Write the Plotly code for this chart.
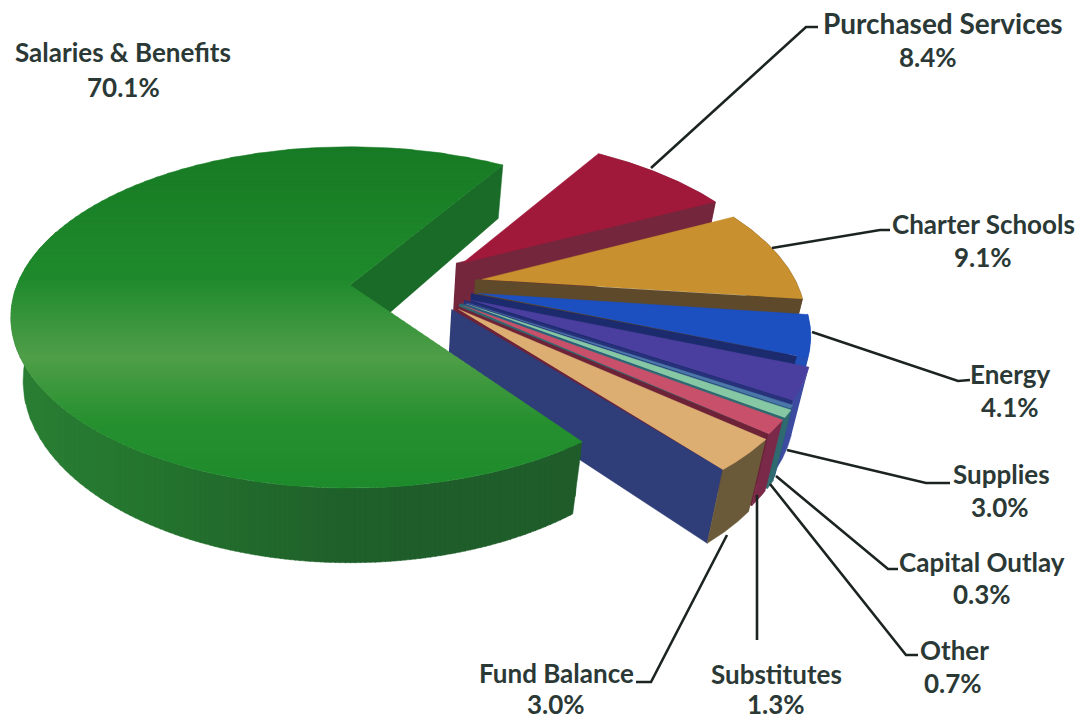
import numpy as np
import plotly.graph_objects as go

# Budget shares, clockwise from the top of the pie
categories = ["Purchased Services", "Charter Schools", "Energy", "Supplies",
              "Capital Outlay", "Other", "Substitutes", "Fund Balance",
              "Salaries & Benefits"]
shares = [8.4, 9.1, 4.1, 3.0, 0.3, 0.7, 1.3, 3.0, 70.1]

top_colors = ["#a0183a", "#c8902e", "#1c4fc0", "#4a3f9e", "#4a78a8",
              "#86c8a4", "#c8506a", "#dcae72", None]
edge_colors = ["#74263c", "#5e4a2a", "#1c2a6e", "#27327a", "#2a5a80",
               "#2f6a70", "#6e2238", "#2f3d78", "#1a6a28"]
rim_colors = ["#74263c", "#5e4a2a", "#2050b8", "#3c4aa0", "#2a5a80",
              "#2f6a70", "#7a2a48", "#6b5a3a", None]

# How far each small wedge is pulled out, and its radius
pulls = [0.367, 0.394, 0.378, 0.363, 0.357, 0.354, 0.35, 0.342]
radii = [0.95, 0.932, 0.943, 0.958, 0.965, 0.97, 0.97, 0.975]

# Green top face: vertical shading stops (screen y, colour)
green_top_stops = [(145, "#177a24"), (280, "#1f8a2c"), (357, "#4f9e48"),
                   (420, "#26902f"), (500, "#1b8a2a")]
# Green rim: horizontal shading stops (screen x, colour)
green_rim_stops = [(0, "#2a8034"), (150, "#24742e"), (350, "#1f5f2a"), (590, "#1f5c2a")]

# Leader lines and label anchors
leaders = {
    "Purchased Services": ([651, 806, 818], [168, 27, 27]),
    "Charter Schools": ([772, 880, 890], [248, 230, 230]),
    "Energy": ([812, 958, 970], [332, 381, 380]),
    "Supplies": ([787, 926, 950], [450, 483, 483]),
    "Capital Outlay": ([776, 888, 898], [476, 569, 569]),
    "Other": ([770, 906, 918], [484, 655, 655]),
    "Substitutes": ([757, 757], [495, 640]),
    "Fund Balance": ([727, 651, 636], [535, 682, 682]),
}
name_anchor = {
    "Salaries & Benefits": (123, 52), "Purchased Services": (943, 23),
    "Charter Schools": (983, 224), "Energy": (1010, 374), "Supplies": (1001, 474),
    "Capital Outlay": (982, 562), "Other": (954, 650), "Substitutes": (776, 674),
    "Fund Balance": (556, 673),
}
value_anchor = {
    "Salaries & Benefits": (123, 87), "Purchased Services": (928, 57),
    "Charter Schools": (983, 257), "Energy": (1010, 407), "Supplies": (1000, 507),
    "Capital Outlay": (982, 594), "Other": (953, 683), "Substitutes": (776, 704),
    "Fund Balance": (556, 704),
}
name_sizes = {"Purchased Services": 28}

# Perspective camera for the tilted pie
CX, CY = 350.0, 285.0
RX, RY = 338.0, 167.0
NEAR_GAIN = 0.193      # near side of the disc grows
DEPTH_GAIN = 0.036     # underside shrinks
THICK_BASE, THICK_NEAR = 64.5, 6.0
START_ANGLE = -56.5
FAN = 1.01             # the pulled-out wedges fan open slightly
PULL_SKEW = 0.52
WALL_BACK = 0.02       # cut faces start a little behind the wedge tip
GREEN_TRIM = (1.6, 1.3)
GREEN_RADIUS = 0.985


def project(u, v, t):
    scale = 1.0 / (1.0 - NEAR_GAIN * v + DEPTH_GAIN * t)
    thick = THICK_BASE + THICK_NEAR * v
    return CX + RX * u * scale, CY + (RY * v + thick * t) * scale


def rim_points(ox, oy, radius, a0, a1, t, n=60):
    ang = np.radians(np.linspace(a0, a1, n))
    return project(ox + radius * np.cos(ang), oy + radius * np.sin(ang), t)


def clip(xs, ys, axis, low, high):
    """Keep the part of a polygon whose x (axis 0) or y (axis 1) lies in [low, high]."""
    pts = list(zip(xs, ys))
    for bound, sign in ((low, 1), (high, -1)):
        kept = []
        for i, p in enumerate(pts):
            q = pts[(i + 1) % len(pts)]
            dp, dq = sign * (p[axis] - bound), sign * (q[axis] - bound)
            if dp >= 0:
                kept.append(p)
            if dp * dq < 0:
                f = dp / (dp - dq)
                kept.append((p[0] + f * (q[0] - p[0]), p[1] + f * (q[1] - p[1])))
        pts = kept
        if not pts:
            return [], []
    return [p[0] for p in pts], [p[1] for p in pts]


def mix(stops, pos):
    locs = [s[0] for s in stops]
    rgb = [[int(s[1][i:i + 2], 16) for s in stops] for i in (1, 3, 5)]
    return "rgb({:.0f},{:.0f},{:.0f})".format(*(np.interp(pos, locs, c) for c in rgb))


fig = go.Figure()


def add_poly(xs, ys, color):
    fig.add_trace(go.Scatter(x=list(xs), y=list(ys), mode="lines", fill="toself",
                             fillcolor=color, line=dict(color=color, width=0.5),
                             hoverinfo="skip", showlegend=False))


def add_shaded(xs, ys, stops, axis, step):
    lo, hi = stops[0][0], stops[-1][0]
    for pos in np.arange(lo, hi, step):
        bx, by = clip(xs, ys, axis, pos, pos + step + 0.8)
        if bx:
            add_poly(bx, by, mix(stops, pos + step / 2))


# Wedge angles follow the cumulative shares
angle = START_ANGLE
for i, (name, share) in enumerate(zip(categories, shares)):
    if name == "Salaries & Benefits":
        # The large wedge stays at the centre of the pie and fills what is left
        a0, a1 = angle + GREEN_TRIM[0], 360 + START_ANGLE - GREEN_TRIM[1]
        eu, ev = GREEN_RADIUS * np.cos(np.radians(a1)), GREEN_RADIUS * np.sin(np.radians(a1))
        ex, ey = project(eu, ev, 0)
        bx, by = project(eu, ev, 1)
        ax0, ay0 = project(0.0, 0.0, 0)
        ax1, ay1 = project(0.0, 0.0, 1)
        add_poly([ax0, ex, bx, ax1], [ay0, ey, by, ay1], edge_colors[i])
        tx, ty = rim_points(0, 0, GREEN_RADIUS, a0, a1, 0, 200)
        ux, uy = rim_points(0, 0, GREEN_RADIUS, a0, 200, 1, 200)
        ox, oy = rim_points(0, 0, GREEN_RADIUS, a0, 200, 0, 200)
        add_shaded(np.r_[ox, ux[::-1]], np.r_[oy, uy[::-1]], green_rim_stops, 0, 5)
        add_shaded(np.r_[ax0, tx], np.r_[ay0, ty], green_top_stops, 1, 4)
        continue
    a0, a1 = angle, angle + share * 3.6 * FAN
    angle = a1
    mid = np.radians((a0 + a1) / 2 * PULL_SKEW)
    radius = radii[i]
    ou, ov = pulls[i] * np.cos(mid), pulls[i] * np.sin(mid)
    # Cut face at the trailing edge of the wedge
    cu, cv = radius * np.cos(np.radians(a1)), radius * np.sin(np.radians(a1))
    p0 = project(ou, ov, 0)
    p0b = project(ou - WALL_BACK, ov, 0)
    p1 = project(ou + cu, ov + cv, 0)
    p2 = project(ou + cu, ov + cv, 1)
    p3 = project(ou - WALL_BACK, ov, 1)
    add_poly([p0b[0], p1[0], p2[0], p3[0]], [p0b[1], p1[1], p2[1], p3[1]], edge_colors[i])
    # Outer rim
    rx0, ry0 = rim_points(ou, ov, radius, a0, a1, 0)
    rx1, ry1 = rim_points(ou, ov, radius, a0, a1, 1)
    add_poly(np.r_[rx0, rx1[::-1]], np.r_[ry0, ry1[::-1]], rim_colors[i])
    # Top face
    add_poly(np.r_[p0[0], rx0], np.r_[p0[1], ry0], top_colors[i])

# Leader lines
for name, (lx, ly) in leaders.items():
    fig.add_trace(go.Scatter(x=lx, y=ly, mode="lines", hoverinfo="skip", showlegend=False,
                             line=dict(color="#1c2422", width=2.6)))

# Category names with their percentage underneath
for name, share in zip(categories, shares):
    nx, ny = name_anchor[name]
    vx, vy = value_anchor[name]
    name_font = dict(family="Lato", size=name_sizes.get(name, 26), color="#2b3936")
    value_font = dict(family="Lato", size=26, color="#2b3936")
    fig.add_annotation(x=nx, y=ny, text=f"<b>{name}</b>", showarrow=False, font=name_font)
    fig.add_annotation(x=vx, y=vy, text=f"<b>{share:.1f}%</b>", showarrow=False, font=value_font)

fig.update_layout(width=1084, height=720, margin=dict(l=0, r=0, t=0, b=0),
                  paper_bgcolor="white", plot_bgcolor="white", showlegend=False)
fig.update_xaxes(range=[0, 1084], visible=False)
fig.update_yaxes(range=[720, 0], visible=False)
fig.write_html("out.html")
